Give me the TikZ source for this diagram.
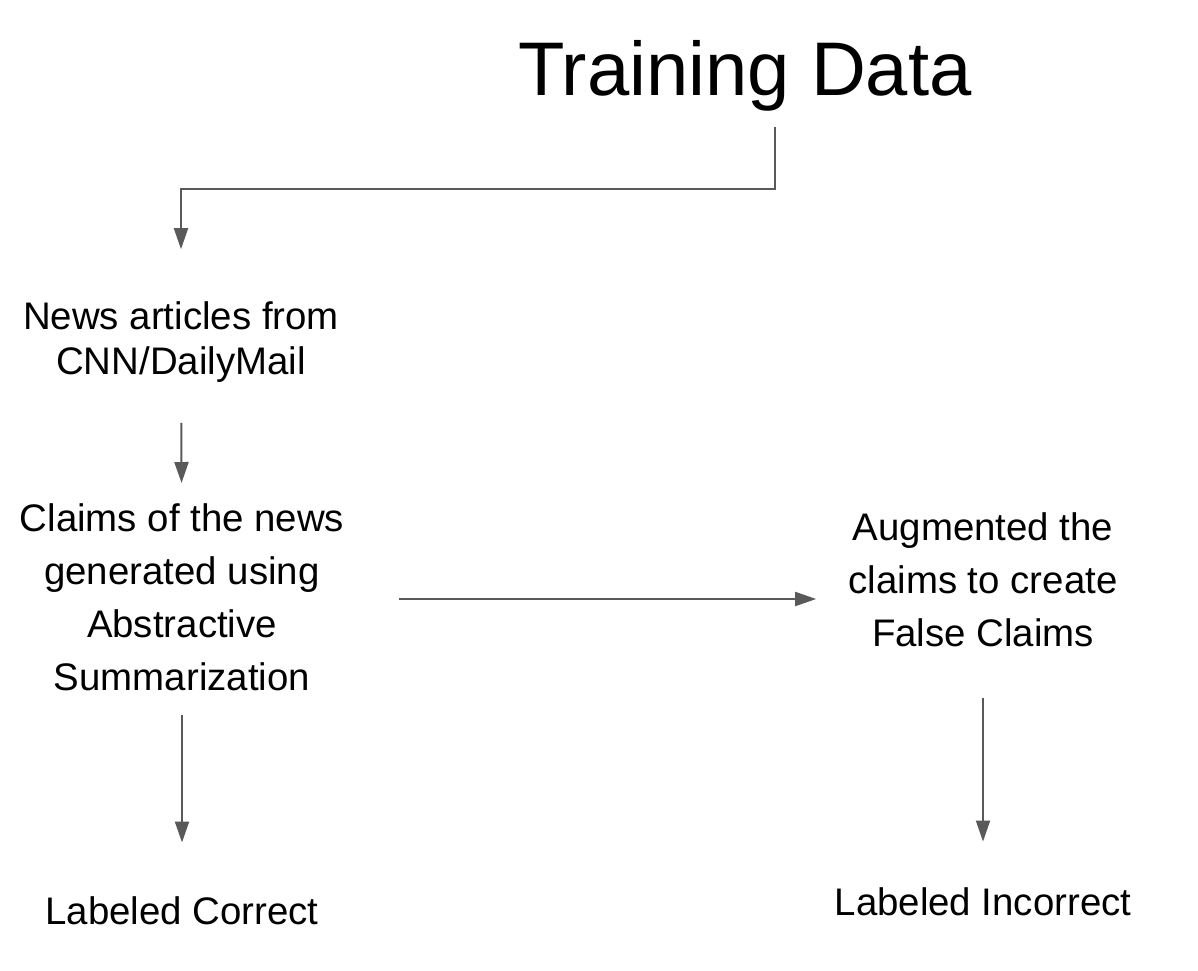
\documentclass[tikz,border=0pt]{standalone}
\usepackage{fontspec}
\setmainfont{Liberation Sans}
\usetikzlibrary{arrows.meta}
\definecolor{linegray}{HTML}{595959}
\tikzset{
  flow/.style={draw=linegray,line width=1pt,-{Triangle[length=10.5pt,width=7pt]}},
  label/.style={inner sep=0pt,align=center,font=\fontsize{19.2pt}{26.5pt}\selectfont}
}
\begin{document}
\begin{tikzpicture}[x=0.5pt,y=-0.5pt]
\useasboundingbox (0,0) rectangle (1198,970);
\node[inner sep=0pt,font=\fontsize{38pt}{44pt}\selectfont,anchor=base] (title) at (745,95) {Training Data};
\node[label,font=\fontsize{19.2pt}{22.5pt}\selectfont] (news) at (181,342) {News articles from\\CNN/DailyMail};
\node[label] (claims) at (182,597) {Claims of the news\\generated using\\Abstractive\\Summarization};
\node[label] (augment) at (983,580) {Augmented the\\claims to create\\False Claims};
\node[label] (correct) at (182,911) {Labeled Correct};
\node[label] (incorrect) at (983,902) {Labeled Incorrect};
% connectors
\coordinate (bend) at (775,189);
\draw[flow,shorten <=8pt,shorten >=26pt] (title.south -| bend) -- (bend) -| (news.north);
\draw[flow,shorten <=20pt,shorten >=10pt] (news) -- (claims);
\draw[flow,shorten <=27pt,shorten >=16pt] (claims.east |- 0,599) -- (augment.west |- 0,599);
\draw[flow,shorten <=12pt,shorten >=27pt] (claims) -- (correct);
\draw[flow,shorten <=25pt,shorten >=23pt] (augment) -- (incorrect);
\end{tikzpicture}
\end{document}
